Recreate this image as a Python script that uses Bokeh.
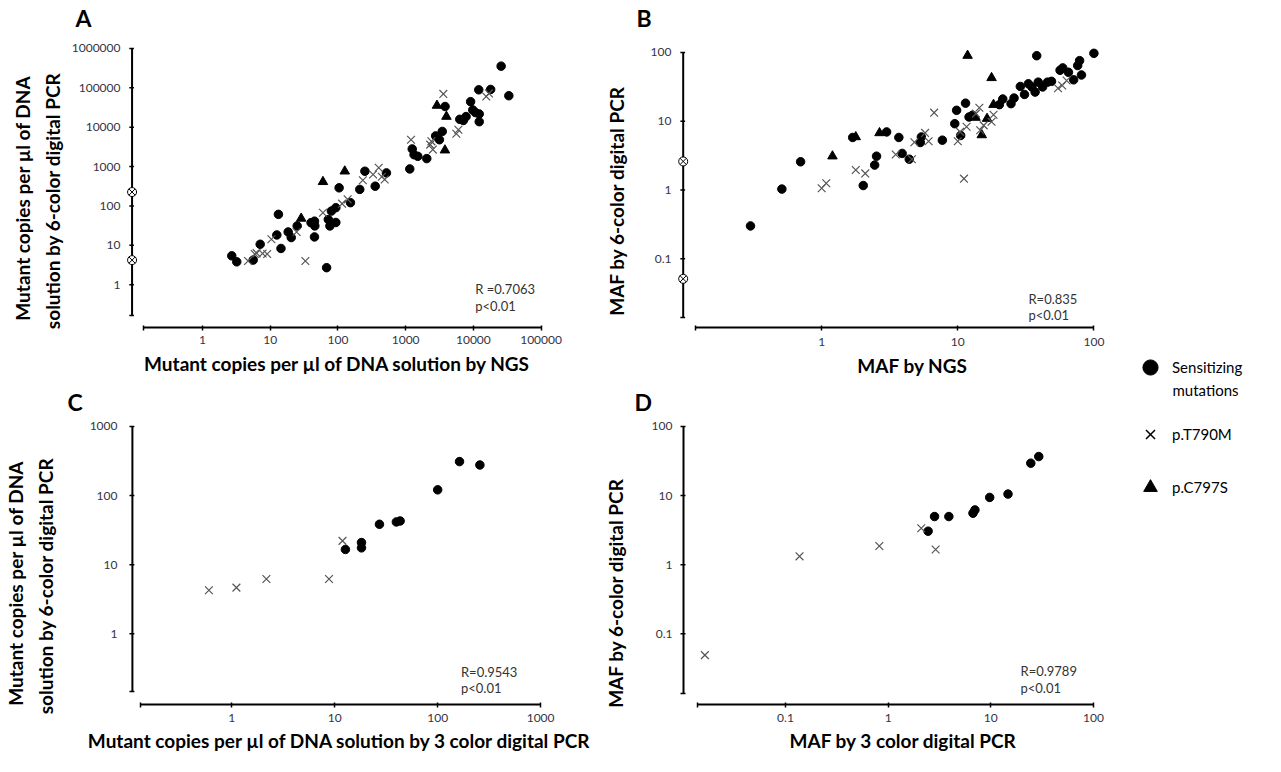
from bokeh.plotting import figure
from bokeh.layouts import row, column
from bokeh.models import (Range1d, FixedTicker, CustomJSTickFormatter, Label,
                          Legend, LegendItem)
from bokeh.embed import file_html
from bokeh.resources import INLINE

# ---------------------------------------------------------------- data
# Panel A: mutant copies per µl, NGS (x) vs 6-color digital PCR (y)
a_sens_x = [2.7, 3.2, 5.6, 7.1, 13.2, 12.5, 14.4, 18.4, 20.4, 25, 40, 45, 45.5, 45, 68, 72, 76, 80,
            93, 93, 104, 153, 210, 250, 355, 520, 1150, 1250, 1330, 1510, 2050, 2770, 3150, 3470,
            3820, 6300, 7100, 7800, 9100, 9800, 10700, 12000, 12200, 12200, 18000, 25700, 33400]
a_sens_y = [5.4, 3.8, 4.2, 10.6, 61, 18.3, 8.3, 21.8, 15.7, 31, 37.6, 41, 31, 16.3, 2.7, 45, 31, 74,
            90, 38, 288, 121, 263, 760, 317, 690, 870, 2800, 2000, 1820, 1590, 6000, 4800, 7800,
            33500, 15800, 14800, 18600, 44500, 27500, 23500, 89000, 21700, 13800, 91000, 355000, 63000]
a_t790m_x = [4.7, 5.9, 6.3, 7.7, 9.0, 10.4, 24.5, 33, 60, 115, 139, 233, 330, 400, 445, 490,
             1200, 2300, 2520, 2400, 3600, 5600, 6000, 15500, 17000]
a_t790m_y = [4.0, 6.0, 6.3, 6.2, 6.0, 14.2, 21.8, 4.0, 67, 114, 147, 450, 630, 930, 550, 470,
             4800, 3600, 2700, 4370, 70000, 6800, 8600, 60000, 72000]
a_c797s_x = [28.6, 60, 126, 2900, 4000, 3800]
a_c797s_y = [48, 410, 760, 35500, 18600, 2600]
a_zero_y = [225, 4.2]          # NGS = 0, drawn on the y axis

# Panel B: MAF, NGS (x) vs 6-color digital PCR (y)
b_sens_x = [0.30, 0.51, 0.70, 1.69, 2.02, 2.45, 2.53, 3.0, 3.69, 3.9, 4.4, 5.3, 5.4, 7.7, 9.5, 9.8,
            10.5, 11.4, 12.1, 12.8, 20.2, 21.4, 24.6, 25.9, 28.8, 30.9, 33, 35, 37, 39, 38, 42,
            45.6, 48.8, 56.4, 59, 65, 71, 76, 78.5, 81, 100]
b_sens_y = [0.30, 1.03, 2.57, 5.8, 1.16, 2.3, 3.1, 6.98, 5.8, 3.4, 2.8, 4.9, 5.9, 5.3, 9.2, 14.4,
            6.2, 18.3, 11.5, 12.2, 17.4, 21, 18, 21.7, 32, 24.5, 35, 31.5, 26.5, 37, 89.6, 31.5,
            37, 38, 55, 59.6, 51.5, 40, 64.5, 76, 47, 97]
b_t790m_x = [1.0, 1.08, 1.78, 2.09, 3.5, 4.6, 4.8, 5.75, 6.1, 6.7, 10, 10.4, 11.1, 11.6, 13.6,
             14.4, 14.6, 15.5, 17.7, 18.3, 54.5, 58.5, 63]
b_t790m_y = [1.06, 1.25, 1.95, 1.74, 3.28, 2.8, 4.95, 6.75, 5.1, 13.3, 5.1, 7.0, 1.46, 8.3, 12.9,
             15.7, 7.4, 8.7, 9.8, 12.4, 30.2, 33, 39]
b_c797s_x = [1.2, 1.78, 2.66, 11.8, 13.5, 15, 16.4, 17.7, 18.3]
b_c797s_y = [3.1, 5.9, 6.75, 90, 11.3, 6.3, 10.9, 42.7, 17.4]
b_zero_y = [2.6, 0.051]        # NGS = 0, drawn on the y axis

# Panel C: mutant copies per µl, 3 color digital PCR (x) vs 6-color digital PCR (y)
c_sens_x = [12.7, 18.2, 18.2, 27.2, 39.7, 43.2, 100, 163, 257]
c_sens_y = [16.6, 20.9, 17.5, 38.4, 41.5, 42.9, 121, 310, 277]
c_t790m_x = [0.60, 1.11, 2.17, 8.8, 11.9]
c_t790m_y = [4.26, 4.65, 6.2, 6.2, 22.1]

# Panel D: MAF, 3 color digital PCR (x) vs 6-color digital PCR (y)
d_sens_x = [2.45, 2.83, 3.9, 6.7, 7.0, 9.75, 14.7, 24.5, 29.3]
d_sens_y = [3.05, 4.97, 4.97, 5.55, 6.2, 9.4, 10.5, 29.4, 36.7]
d_t790m_x = [0.0164, 0.137, 0.82, 2.1, 2.9]
d_t790m_y = [0.049, 1.32, 1.86, 3.37, 1.66]

# tick labels
a_xticks = [1, 10, 100, 1000, 10000, 100000]
a_yticks = [1, 10, 100, 1000, 10000, 100000, 1000000]
b_xticks = [1, 10, 100]
b_yticks = [0.1, 1, 10, 100]
c_xticks = [1, 10, 100, 1000]
c_yticks = [1, 10, 100, 1000]
d_xticks = [0.1, 1, 10, 100]
d_yticks = [0.1, 1, 10, 100]

legend_labels = ["Sensitizing", "mutations", "p.T790M", "p.C797S"]

# ---------------------------------------------------------------- style
FONT = "Lato"
TICK_COLOR = "#333344"
X_COLOR = "#555555"
PAGE_H = 754
ORIGIN = 8
FMT = "return tick < lo ? '' : String(tick);"
NB = "\u00a0"


def pad_end(text, k):
    return "\n".join(line + NB * k for line in text.split("\n"))


def panel(spec, xticks, yticks, sens, t790m, c797s, zero_y, letter, stats,
          xlabel, ylabel):
    fx, fy, fw, fh = spec["fig"]
    ax_x = spec["yaxis_x"]
    l, t, r, b = ax_x - 6, spec["frame_top"], spec["frame_right"], spec["xaxis_y"]
    (xp0, xl0), (xp1, xl1) = spec["xcal"]
    (yp0, yl0), (yp1, yl1) = spec["ycal"]
    xs = (xp1 - xp0) / (xl1 - xl0)
    ys = (yp0 - yp1) / (yl1 - yl0)
    ix = lambda px: 10 ** (xl0 + (px - xp0) / xs)
    iy = lambda py: 10 ** (yl0 + (yp0 - py) / ys)

    p = figure(width=fw, height=fh, x_axis_type="log", y_axis_type="log",
               x_range=Range1d(ix(l), ix(r)), y_range=Range1d(iy(b), iy(t)),
               min_border_left=l - fx, min_border_right=fx + fw - r,
               min_border_top=t - fy, min_border_bottom=fy + fh - b,
               toolbar_location=None, output_backend="svg", title=letter)
    p.outline_line_color = None
    p.grid.visible = False

    # panel letter
    p.title.align = "left"
    p.title.offset = spec["letter_x"] - l
    p.title.standoff = 2
    p.title.text_font = FONT
    p.title.text_font_size = "23px"
    p.title.text_font_style = "bold"
    p.title.text_color = "black"

    # x axis (below, detached from the y axis)
    xa = p.xaxis[0]
    x_lo = ix(spec["xaxis_start"])
    xa.bounds = (x_lo, xticks[-1])
    xa.ticker = FixedTicker(ticks=[x_lo * 1.0001] + xticks)
    xa.formatter = CustomJSTickFormatter(args=dict(lo=xticks[0] * 0.5), code=FMT)
    xa.axis_line_width = 2
    xa.axis_line_color = "black"
    xa.major_tick_line_width = 1.5
    xa.major_tick_in = 2
    xa.major_tick_out = 3
    xa.major_label_standoff = spec["x_lab_so"]
    xa.axis_label_standoff = spec["x_title_so"]

    # y axis: labels from the axis, line + ticks drawn on the axis position
    ya = p.yaxis[0]
    y_lo = iy(spec["yaxis_end"])
    ya.bounds = (y_lo, yticks[-1])
    ya.ticker = FixedTicker(ticks=[y_lo * 1.0001] + yticks)
    ya.formatter = CustomJSTickFormatter(args=dict(lo=yticks[0] * 0.5), code=FMT)
    ya.axis_line_color = None
    ya.major_tick_line_color = None
    ya.major_tick_in = 0
    ya.major_tick_out = 0
    ya.major_label_standoff = spec["y_lab_so"]
    ya.axis_label_standoff = spec["y_title_so"]

    for ax in (xa, ya):
        ax.minor_tick_line_color = None
        ax.major_label_text_font = FONT
        ax.major_label_text_font_size = "12px"
        ax.major_label_text_color = TICK_COLOR
        ax.axis_label_text_font = FONT
        ax.axis_label_text_font_size = "19px"
        ax.axis_label_text_font_style = "bold"
        ax.axis_label_text_color = "black"
        ax.axis_label_text_line_height = 1.3
    xa.axis_label = NB * spec["x_shift"] + xlabel
    ya.axis_label = pad_end(ylabel, spec["y_shift"])

    axv = ix(ax_x)
    ytk = [y_lo] + yticks
    p.segment(x0=[axv], y0=[y_lo], x1=[axv], y1=[yticks[-1]],
              line_width=2, line_color="black")
    p.segment(x0=[ix(ax_x - 3)] * len(ytk), y0=ytk, x1=[ix(ax_x + 2)] * len(ytk), y1=ytk,
              line_width=1.5, line_color="black")

    # data
    if sens is not None:
        p.scatter(sens[0], sens[1], marker="circle", size=8.5, color="black")
    if c797s is not None:
        p.scatter(c797s[0], c797s[1], marker="triangle", size=9.5, color="black")
    if t790m is not None:
        p.scatter(t790m[0], t790m[1], marker="x", size=11, line_color=X_COLOR, line_width=1.2)
    if zero_y is not None:
        p.scatter([axv] * len(zero_y), zero_y, marker="circle_x", size=9,
                  fill_color="white", line_color="black", line_width=1)

    # statistics
    sx, sy1, sy2 = spec["stats"]
    for txt, yy in zip(stats, (sy1, sy2)):
        p.add_layout(Label(x=ix(sx), y=iy(yy), text=txt, text_font=FONT,
                           text_font_size="13px", text_baseline="middle",
                           text_align="left", text_color="#333333"))
    return p


spec_a = dict(fig=(8, 8, 600, 384), yaxis_x=124, frame_top=39, frame_right=573, xaxis_y=335,
              xcal=((200, 0), (565, 5)), ycal=((292, 0), (55, 6)),
              xaxis_start=136, yaxis_end=323,
              x_lab_so=5, x_title_so=5, y_lab_so=6, y_title_so=5,
              x_shift=0, y_shift=8,
              letter_x=67, stats=(494, 296, 313))
spec_b = dict(fig=(608, 8, 527, 384), yaxis_x=690, frame_top=39, frame_right=1131, xaxis_y=335,
              xcal=((836, 0), (1123, 2)), ycal=((266, -1), (59, 2)),
              xaxis_start=703, yaxis_end=325,
              x_lab_so=7, x_title_so=5, y_lab_so=6, y_title_so=20,
              x_shift=10, y_shift=7,
              letter_x=643, stats=(1054, 306, 322))
spec_c = dict(fig=(8, 392, 600, 370), yaxis_x=133, frame_top=424, frame_right=556, xaxis_y=713,
              xcal=((234, 0), (548, 3)), ycal=((642, 0), (434, 3)),
              xaxis_start=141, yaxis_end=700,
              x_lab_so=6, x_title_so=4, y_lab_so=9, y_title_so=30,
              x_shift=1, y_shift=10,
              letter_x=68, stats=(467, 680, 696))
spec_d = dict(fig=(608, 392, 527, 370), yaxis_x=691, frame_top=424, frame_right=1109, xaxis_y=713,
              xcal=((793, -1), (1101, 2)), ycal=((642, -1), (434, 2)),
              xaxis_start=705, yaxis_end=702,
              x_lab_so=6, x_title_so=4, y_lab_so=5, y_title_so=22,
              x_shift=7, y_shift=12,
              letter_x=642, stats=(1028, 679, 696))

ylab_copies = "Mutant copies per µl of DNA\nsolution by 6-color  digital PCR"
ylab_maf = "MAF by 6-color   digital PCR"

pa = panel(spec_a, a_xticks, a_yticks, (a_sens_x, a_sens_y), (a_t790m_x, a_t790m_y),
           (a_c797s_x, a_c797s_y), a_zero_y, "A", ("R =0.7063", "p<0.01"),
           "Mutant copies per µl of DNA solution by NGS", ylab_copies)
pb = panel(spec_b, b_xticks, b_yticks, (b_sens_x, b_sens_y), (b_t790m_x, b_t790m_y),
           (b_c797s_x, b_c797s_y), b_zero_y, "B", ("R=0.835", "p<0.01"),
           "MAF by NGS", ylab_maf)
pc = panel(spec_c, c_xticks, c_yticks, (c_sens_x, c_sens_y), (c_t790m_x, c_t790m_y),
           None, None, "C", ("R=0.9543", "p<0.01"),
           "Mutant copies per µl of DNA solution by 3 color digital PCR", ylab_copies)
pd_ = panel(spec_d, d_xticks, d_yticks, (d_sens_x, d_sens_y), (d_t790m_x, d_t790m_y),
            None, None, "D", ("R=0.9789", "p<0.01"),
            "MAF by 3 color  digital PCR", ylab_maf)

# ---------------------------------------------------------------- legend panel
LX, LW = 1135, 136
LBOT = ORIGIN + PAGE_H
# ranges lie away from all data, so the renderers below only feed the legend glyphs
X0, Y0 = -1000.0, -2000.0
pl = figure(width=LW, height=PAGE_H, x_range=Range1d(X0, X0 + LW), y_range=Range1d(Y0, Y0 + PAGE_H),
            x_axis_location=None, y_axis_location=None, toolbar_location=None,
            output_backend="svg", title=None, min_border=0)
pl.outline_line_color = None
pl.grid.visible = False

r_s = pl.scatter(a_sens_x, a_sens_y, marker="circle", color="black")
r_x = pl.scatter(a_t790m_x, a_t790m_y, marker="x", line_color="black", line_width=1.5)
r_t = pl.scatter(a_c797s_x, a_c797s_y, marker="triangle", color="black")

TEXT_X = 1180


def add_leg(renderer, label, cx, cy, g):
    leg = Legend(items=[LegendItem(label=label, renderers=[renderer])],
                 location=(cx - g / 2 - LX, LBOT - (cy + g / 2)),
                 glyph_width=g, glyph_height=g, padding=0, margin=0, spacing=0,
                 label_standoff=int(TEXT_X - (cx + g / 2)),
                 border_line_color=None, background_fill_alpha=0,
                 label_text_font=FONT, label_text_font_size="15px",
                 label_text_color="black")
    pl.add_layout(leg)


add_leg(r_s, legend_labels[0], 1158, 375, 38)
add_leg(r_x, legend_labels[2], 1158, 442, 32)
add_leg(r_t, legend_labels[3], 1158, 495, 34)
pl.add_layout(Label(x=X0 + TEXT_X - LX, y=Y0 + LBOT - 397, text=legend_labels[1], text_font=FONT,
                    text_font_size="15px", text_baseline="middle", text_align="left",
                    text_color="black"))

layout = row(column(pa, pc), column(pb, pd_), pl)

open("out.html", "w").write(file_html(layout, INLINE))
